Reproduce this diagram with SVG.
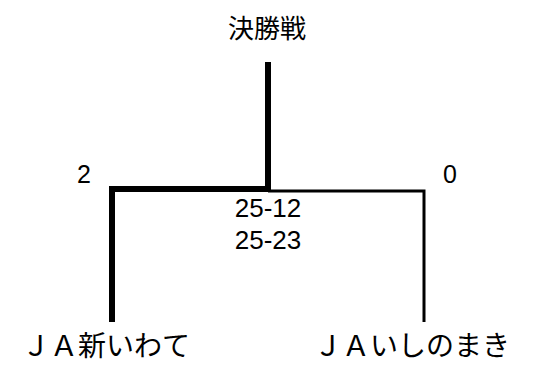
<svg xmlns="http://www.w3.org/2000/svg" width="540" height="365" viewBox="0 0 540 365">
<style>
text{font-family:"Noto Sans CJK JP","Noto Sans",sans-serif;fill:#000;text-anchor:middle}
.num{font-family:"Liberation Sans","Noto Sans",sans-serif}
.win{stroke:#000;stroke-width:6;fill:none}
.lose{stroke:#000;stroke-width:3;fill:none}
</style>
<rect width="540" height="365" fill="#fff"/>
<g id="connectors">
<polyline class="lose" points="268,191 424,191 424,322"/>
<polyline class="win" points="112,322 112,189 268,189"/>
<line class="win" x1="268" y1="62" x2="268" y2="192" stroke-width="7"/>
</g>
<g id="final"><text x="267" y="38" font-size="26">決勝戦</text></g>
<g id="score-left"><text class="num" x="84" y="183" font-size="25">2</text></g>
<g id="score-right"><text class="num" x="450" y="183" font-size="25">0</text></g>
<g id="sets"><text class="num" x="268" y="217" font-size="26">25-12</text><text class="num" x="268" y="249" font-size="26">25-23</text></g>
<g id="team-left"><text x="106" y="356" font-size="28">ＪＡ新いわて</text></g>
<g id="team-right"><text x="412" y="356" font-size="28">ＪＡいしのまき</text></g>
</svg>
